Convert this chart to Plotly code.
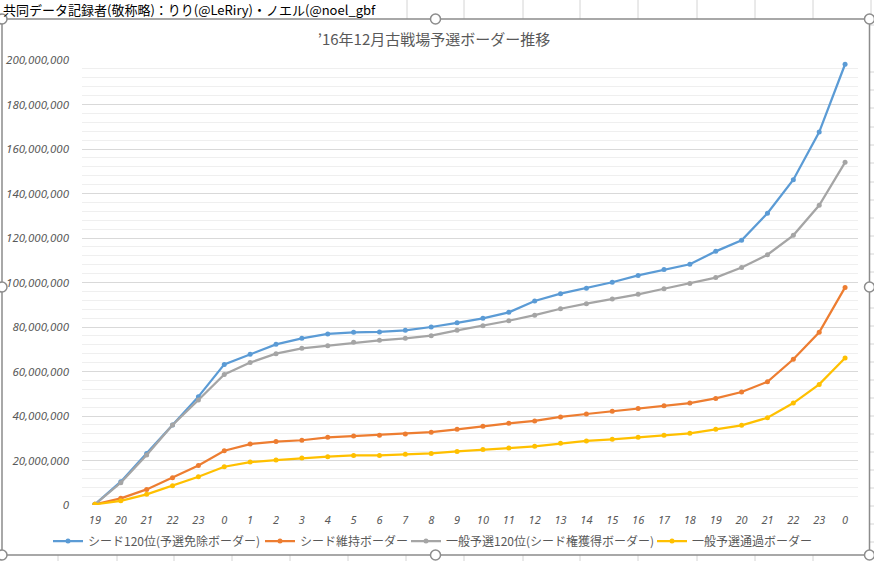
import plotly.graph_objects as go

W, H = 874, 561
ML, MR, MT, MB = 82, 16, 60, 56

hours = ["19", "20", "21", "22", "23", "0", "1", "2", "3", "4", "5", "6", "7", "8", "9",
         "10", "11", "12", "13", "14", "15", "16", "17", "18", "19", "20", "21", "22", "23", "0"]

seed120 = [0.3, 10.5, 23.2, 36.0, 48.7, 63.2, 67.7, 72.2, 74.9, 76.9, 77.6, 77.8, 78.5, 80.0, 81.9,
           83.9, 86.6, 91.7, 95.0, 97.4, 100.1, 103.2, 105.8, 108.2, 114.0, 119.0, 131.1, 146.2, 167.6, 198.1]
seed_keep = [0.3, 3.0, 7.0, 12.3, 17.8, 24.4, 27.4, 28.5, 29.1, 30.4, 31.0, 31.3, 31.9, 32.7, 34.0,
             35.4, 36.7, 37.8, 39.6, 40.9, 42.1, 43.4, 44.6, 45.8, 47.9, 50.8, 55.4, 65.5, 77.6, 97.8]
general120 = [0.3, 10.0, 22.5, 36.0, 47.2, 58.7, 64.0, 68.0, 70.4, 71.6, 73.1, 74.0, 74.9, 76.1, 78.5,
              80.6, 82.8, 85.3, 88.2, 90.5, 92.6, 94.7, 97.2, 99.6, 102.2, 106.7, 112.5, 121.2, 134.7, 154.0]
general_pass = [0.3, 1.9, 4.8, 8.7, 12.7, 17.2, 19.3, 20.2, 21.1, 21.7, 22.3, 22.3, 22.8, 23.2, 24.1,
                25.0, 25.6, 26.4, 27.7, 28.8, 29.5, 30.4, 31.3, 32.2, 34.0, 35.8, 39.2, 45.8, 54.2, 66.1]

series = [
    ("シード120位(予選免除ボーダー)", seed120, "#5B9BD5"),
    ("シード維持ボーダー", seed_keep, "#ED7D31"),
    ("一般予選120位(シード権獲得ボーダー)", general120, "#A5A5A5"),
    ("一般予選通過ボーダー", general_pass, "#FFC000"),
]
legend_text_x = [88, 300, 446, 692]

yticks = list(range(0, 200_000_001, 20_000_000))
ytext = [f"{v:,}" for v in yticks]

fig = go.Figure()
xs = list(range(len(hours)))
legend_ids = ["legend", "legend2", "legend3", "legend4"]
for (name, vals, col), lid in zip(series, legend_ids):
    fig.add_trace(go.Scatter(
        x=xs, y=[v * 1e6 for v in vals], name=name, mode="lines+markers",
        line=dict(color=col, width=2.25), marker=dict(color=col, size=5),
        legend=lid,
    ))


def px(x):
    return (x - ML) / (W - ML - MR)


def py(y):
    return (H - MB - y) / (H - MT - MB)


shapes = []
grid_col = "#d4d4d4"
# spreadsheet cell lines (top row and bottom row)
for cx in [407, 464, 523, 580, 638, 697, 755, 813, 871]:
    shapes.append(dict(type="line", xref="paper", yref="paper", x0=px(cx), x1=px(cx),
                       y0=py(0), y1=py(19), line=dict(color=grid_col, width=1), layer="below"))
for cx in [58, 117, 174, 232, 290, 348, 406, 464, 523, 580, 638, 697, 755, 813]:
    shapes.append(dict(type="line", xref="paper", yref="paper", x0=px(cx), x1=px(cx),
                       y0=py(555), y1=py(561), line=dict(color=grid_col, width=1), layer="below"))
for cy in [25, 72, 90, 108, 127, 145, 163, 182, 200, 218, 236, 254, 272, 290, 308, 326, 344,
           362, 380, 398, 416, 434, 452, 470, 488, 506, 524, 542]:
    shapes.append(dict(type="line", xref="paper", yref="paper", x0=px(870), x1=px(874),
                       y0=py(cy), y1=py(cy), line=dict(color=grid_col, width=1), layer="below"))
# chart frame
shapes.append(dict(type="rect", xref="paper", yref="paper", x0=px(2), x1=px(869.5),
                   y0=py(555), y1=py(19), line=dict(color="#8c8c8c", width=1.5)))
# selection handles
r = 5
for hx in [2, 435.5, 869.5]:
    for hy in [19, 287, 555]:
        if hx == 435.5 and hy == 287:
            continue
        shapes.append(dict(type="circle", xref="paper", yref="paper",
                           x0=px(hx - r), x1=px(hx + r), y0=py(hy + r), y1=py(hy - r),
                           line=dict(color="#8c8c8c", width=1.5), fillcolor="white"))

layout_legends = {}
for lid, tx in zip(legend_ids, legend_text_x):
    layout_legends[lid] = dict(
        orientation="h", x=(tx - 40) / W, xanchor="left", xref="container",
        y=(H - 541) / H, yanchor="middle", yref="container",
        font=dict(size=12, color="#595959", family="Noto Sans CJK JP"),
        itemwidth=30, bgcolor="rgba(0,0,0,0)", borderwidth=0,
    )

fig.update_layout(
    width=W, height=H,
    margin=dict(l=ML, r=MR, t=MT, b=MB, autoexpand=False),
    paper_bgcolor="white", plot_bgcolor="white",
    font=dict(family="Noto Sans CJK JP", color="#595959"),
    title=dict(text="’16年12月古戦場予選ボーダー推移", x=434 / W, xref="container", xanchor="center",
               y=1 - 40 / H, yref="container", yanchor="middle",
               font=dict(size=15, color="#595959", family="Noto Sans CJK JP")),
    shapes=shapes,
    showlegend=True,
    annotations=[dict(text="共同データ記録者(敬称略)：りり(@LeRiry)・ノエル(@noel_gbf",
                      xref="paper", yref="paper", x=px(1), y=py(9), xanchor="left", yanchor="middle",
                      showarrow=False, font=dict(size=13, color="#000000", family="Noto Sans CJK JP"))],
    **layout_legends,
)

fig.update_xaxes(
    tickmode="array", tickvals=xs, ticktext=hours, range=[-0.5, len(hours) - 0.5],
    showgrid=False, zeroline=False, showline=False, ticks="", automargin=False,
    tickfont=dict(size=11, color="#595959", family="Noto Sans", style="italic"),
    ticklabelstandoff=7,
)
fig.update_yaxes(
    range=[0, 200_000_000], tickmode="array", tickvals=yticks, ticktext=ytext,
    showgrid=True, gridcolor="#d9d9d9", gridwidth=1, zeroline=False, showline=False, ticks="",
    automargin=False,
    minor=dict(dtick=4_000_000, showgrid=True, gridcolor="#efefef", gridwidth=1),
    tickfont=dict(size=11.5, color="#595959", family="Noto Sans", style="italic"),
    ticklabelstandoff=12,
)

fig.write_html("out.html")
